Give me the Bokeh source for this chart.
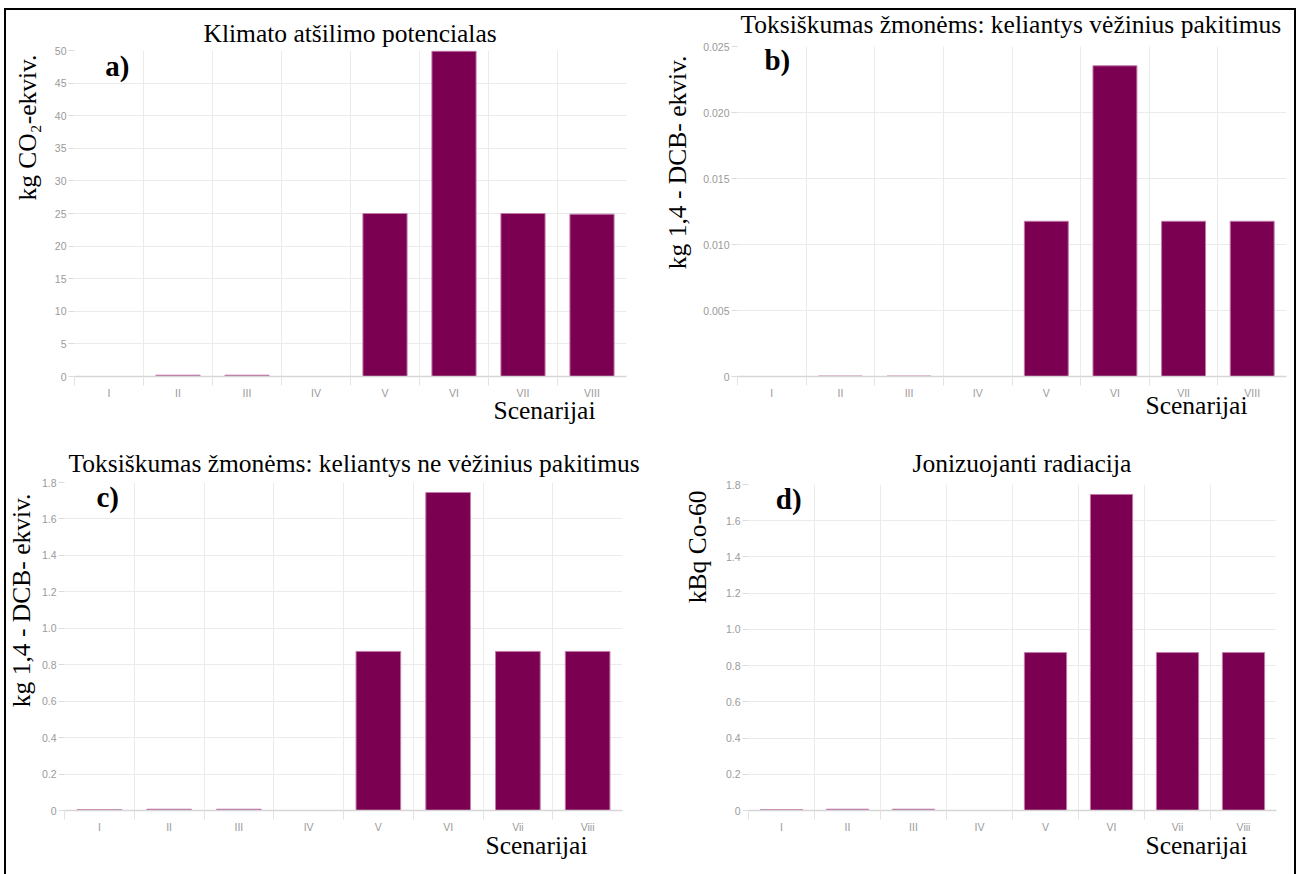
from bokeh.plotting import figure
from bokeh.layouts import row, column
from bokeh.models import FixedTicker, Range1d, Title, Label
from bokeh.embed import file_html
from bokeh.resources import INLINE

# Scenario labels (two spellings are used on the lower panels)
scenarios_upper = ["I", "II", "III", "IV", "V", "VI", "VII", "VIII"]
scenarios_lower = ["I", "II", "III", "IV", "V", "VI", "Vii", "Viii"]

# Impact results per scenario
climate_change = [0.0, 0.2, 0.2, 0.0, 25.0, 49.9, 25.0, 24.9]
tox_cancer = [0.0, 0.00004, 0.00004, 0.0, 0.01176, 0.02354, 0.01176, 0.01176]
tox_noncancer = [0.005, 0.007, 0.007, 0.0, 0.873, 1.745, 0.873, 0.873]
ionizing_radiation = [0.005, 0.007, 0.007, 0.0, 0.872, 1.745, 0.872, 0.872]

# Value-axis ticks and their printed labels
ticks_climate = [0, 5, 10, 15, 20, 25, 30, 35, 40, 45, 50]
labels_climate = ["0", "5", "10", "15", "20", "25", "30", "35", "40", "45", "50"]
ticks_cancer = [0, 0.005, 0.010, 0.015, 0.020, 0.025]
labels_cancer = ["0", "0.005", "0.010", "0.015", "0.020", "0.025"]
ticks_unit = [0, 0.2, 0.4, 0.6, 0.8, 1.0, 1.2, 1.4, 1.6, 1.8]
labels_unit = ["0", "0.2", "0.4", "0.6", "0.8", "1.0", "1.2", "1.4", "1.6", "1.8"]

BAR_FILL = "#7b0051"
BAR_EDGE = "#c27aa8"
GRID = "#ebebeb"
TICK_TEXT = "#9a9a9a"
SERIF = "Liberation Serif"
SANS = "Liberation Sans"
TEXT_SIZE = "25.5px"


def serif_title(text, align, offset, standoff):
    return Title(text=text, align=align, offset=offset, standoff=standoff,
                 text_font=SERIF, text_font_size=TEXT_SIZE,
                 text_font_style="normal", text_color="black")


def make_panel(title, ylabel, letter, cats, values, yticks, ylabels, ymax,
               width, height, borders, title_set, ylabel_set, xlabel_set,
               letter_pos):
    left, right, top, bottom = borders
    n = len(cats)
    centers = [i + 0.5 for i in range(n)]
    p = figure(width=width, height=height, output_backend="svg",
               toolbar_location=None, x_range=Range1d(0, n),
               y_range=Range1d(0, ymax),
               min_border_left=left, min_border_right=right,
               min_border_top=top, min_border_bottom=bottom)
    p.outline_line_color = None
    p.background_fill_color = "white"
    p.border_fill_alpha = 0

    # panel heading
    p.title.text = title
    p.title.align = "left"
    p.title.offset = title_set[0]
    p.title.standoff = title_set[1]
    p.title.text_font = SERIF
    p.title.text_font_size = TEXT_SIZE
    p.title.text_font_style = "normal"
    p.title.text_color = "black"

    # category axis: labels at bar centres, light separators between scenarios
    xt = FixedTicker(ticks=centers, minor_ticks=list(range(n)))
    p.xaxis.ticker = xt
    p.xgrid.ticker = xt
    p.xaxis.major_label_overrides = {c: lab for c, lab in zip(centers, cats)}
    p.xaxis.major_tick_line_color = None
    p.xaxis.major_tick_out = 0
    p.xaxis.major_tick_in = 0
    p.xaxis.minor_tick_line_color = "#e3e3e3"
    p.xaxis.minor_tick_out = 9
    p.xaxis.minor_tick_in = 0
    p.xaxis.axis_line_color = "#d6d6d6"
    p.xaxis.axis_line_width = 1.5
    p.xaxis.major_label_standoff = 1
    p.xaxis.major_label_text_font = SANS
    p.xaxis.major_label_text_font_size = "10.5px"
    p.xaxis.major_label_text_color = TICK_TEXT
    p.xgrid.grid_line_color = None
    p.xgrid.minor_grid_line_color = GRID

    # value axis
    yt = FixedTicker(ticks=yticks, minor_ticks=[])
    p.yaxis.ticker = yt
    p.ygrid.ticker = yt
    p.yaxis.major_label_overrides = {t: lab for t, lab in zip(yticks, ylabels)}
    p.yaxis.axis_line_color = None
    p.yaxis.major_tick_line_color = "#dcdcdc"
    p.yaxis.major_tick_out = 6
    p.yaxis.major_tick_in = 0
    p.yaxis.minor_tick_line_color = None
    p.yaxis.major_label_standoff = 2
    p.yaxis.major_label_text_font = SANS
    p.yaxis.major_label_text_font_size = "10.5px"
    p.yaxis.major_label_text_color = TICK_TEXT
    p.ygrid.grid_line_color = GRID

    p.vbar(x=centers, top=values, bottom=0, width=0.64,
           fill_color=BAR_FILL, line_color=BAR_EDGE, line_width=1)

    # unit label hung from the top of the value axis
    p.add_layout(serif_title(ylabel, "right", ylabel_set[0], ylabel_set[1]),
                 "left")
    # category axis name, right-aligned under the last scenarios
    p.add_layout(serif_title("Scenarijai", "right", xlabel_set[0],
                             xlabel_set[1]), "below")
    # panel letter
    p.add_layout(Label(x=letter_pos[0], y=letter_pos[1], text=letter,
                       text_font=SERIF, text_font_style="bold",
                       text_font_size="29px", text_color="black",
                       text_align="center", text_baseline="middle"))
    return p


pa = make_panel("Klimato atšilimo potencialas", "kg CO₂-ekviv.", "a)",
                scenarios_upper, climate_change, ticks_climate, labels_climate, 50,
                650, 437, (74, 24, 62, 49), (129, 4.5), (4, 19), (31, -16),
                (0.62, 47.65))
pb = make_panel("Toksiškumas žmonėms: keliantys vėžinius pakitimus",
                "kg 1,4 - DCB- ekviv.", "b)",
                scenarios_upper, tox_cancer, ticks_cancer, labels_cancer, 0.025,
                650, 437, (87, 14, 58, 49), (3, 14.5), (9, 18), (39, -25),
                (0.58, 0.02394))
pc = make_panel("Toksiškumas žmonėms: keliantys ne vėžinius pakitimus",
                "kg 1,4 - DCB- ekviv.", "c)",
                scenarios_lower, tox_noncancer, ticks_unit, labels_unit, 1.8,
                650, 449, (64, 28, 57, 64), (4, 9.5), (11, 6), (35, -13),
                (0.62, 1.72))
pd_ = make_panel("Jonizuojanti radiacija", "kBq Co-60", "d)",
                 scenarios_lower, ionizing_radiation, ticks_unit, labels_unit, 1.8,
                 650, 449, (98, 24, 59, 64), (164, 13), (6, 21), (29, -13),
                 (0.61, 1.72))

# page frame: a rule along the top and both sides, drawn behind the panels
frame_css = ("linear-gradient(#000, #000) 4px 20px / 1292px 2px no-repeat, "
             "linear-gradient(#000, #000) 4px 20px / 2px 866px no-repeat, "
             "linear-gradient(#000, #000) 1294px 20px / 2px 866px no-repeat")
page = column(row(column(pa), column(pb)), row(column(pc), column(pd_)),
              margin=(-12, 0, 0, 0), styles={"background": frame_css})

open("out.html", "w").write(file_html(page, INLINE))
